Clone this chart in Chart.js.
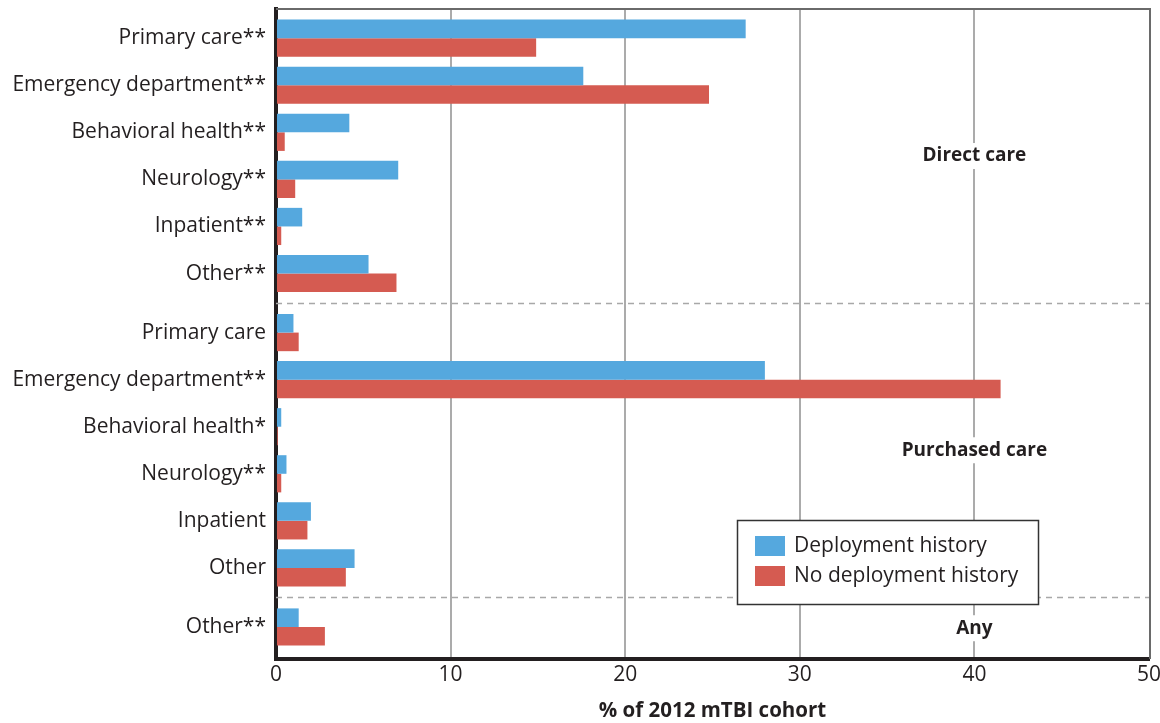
<!DOCTYPE html>
<html>
<head>
<meta charset="utf-8">
<script src="https://cdn.jsdelivr.net/npm/chart.js@4/dist/chart.umd.min.js"></script>
<style>
  html, body { margin: 0; padding: 0; background: #ffffff; }
  #wrap { width: 1160px; height: 723px; position: relative; }
</style>
</head>
<body>
<div id="wrap"><canvas id="c" width="1160" height="723"></canvas></div>
<script>
// ---- data ----
const categories = [
  "Primary care**", "Emergency department**", "Behavioral health**", "Neurology**", "Inpatient**", "Other**",
  "Primary care", "Emergency department**", "Behavioral health*", "Neurology**", "Inpatient", "Other",
  "Other**"
];
const groups = [
  "Direct care", "Direct care", "Direct care", "Direct care", "Direct care", "Direct care",
  "Purchased care", "Purchased care", "Purchased care", "Purchased care", "Purchased care", "Purchased care",
  "Any"
];
const groupNames = ["Direct care", "Purchased care", "Any"];
const deployment   = [26.9, 17.6, 4.2, 7.0, 1.5, 5.3,  1.0, 28.0, 0.3, 0.6, 2.0, 4.5,  1.3];
const noDeployment = [14.9, 24.8, 0.5, 1.1, 0.3, 6.9,  1.3, 41.5, 0.1, 0.3, 1.8, 4.0,  2.8];
const seriesNames = ["Deployment history", "No deployment history"];
const xTicks = [0, 10, 20, 30, 40, 50];
const xTitle = "% of 2012 mTBI cohort";

// ---- layout helpers (positions computed, not data) ----
const GROUP_GAP = 0.255;
const positions = categories.map((c, i) => i + groupNames.indexOf(groups[i]) * GROUP_GAP);
const Y_MIN = positions[0] - 0.62;
const Y_MAX = positions[positions.length - 1] + 0.68;

const FONT = "'Open Sans', 'Noto Sans', sans-serif";
const TEXT = "#231f20";
const BLUE = "#55a8de";
const RED = "#d55b51";

function labelFor(v) {
  for (let i = 0; i < positions.length; i++) {
    if (Math.abs(positions[i] - v) < 1e-6) return categories[i];
  }
  return "";
}

function groupBounds() {
  const out = [];
  groupNames.forEach((g) => {
    const idx = groups.map((x, i) => x === g ? i : -1).filter(i => i >= 0);
    const first = positions[idx[0]], last = positions[idx[idx.length - 1]];
    const start = idx[0] === 0 ? Y_MIN : (positions[idx[0] - 1] + first) / 2;
    const end = idx[idx.length - 1] === positions.length - 1 ? Y_MAX : (last + positions[idx[idx.length - 1] + 1]) / 2;
    out.push({ name: g, start, end });
  });
  return out;
}

const decor = {
  id: "decor",
  beforeDatasetsDraw(chart) {
    const { ctx, chartArea: a, scales: { y } } = chart;
    const b = groupBounds();
    ctx.save();
    ctx.strokeStyle = "#a8a8a8";
    ctx.lineWidth = 1.5;
    ctx.setLineDash([6, 5]);
    for (let i = 0; i < b.length - 1; i++) {
      const py = Math.round(y.getPixelForValue(b[i].end)) + 0.5;
      ctx.beginPath();
      ctx.moveTo(a.left, py);
      ctx.lineTo(a.right, py);
      ctx.stroke();
    }
    ctx.restore();
  },
  afterDraw(chart) {
    const { ctx, chartArea: a, scales: { x, y } } = chart;
    ctx.save();
    // top and right frame
    ctx.strokeStyle = "#6a6a6a";
    ctx.lineWidth = 2;
    ctx.beginPath();
    ctx.moveTo(a.left, a.top);
    ctx.lineTo(a.right + 1, a.top);
    ctx.lineTo(a.right + 1, a.bottom);
    ctx.stroke();

    // group labels
    ctx.font = "bold 19px " + FONT;
    ctx.textAlign = "center";
    ctx.textBaseline = "middle";
    const gx = x.getPixelForValue(40);
    groupBounds().forEach(g => {
      const gy = (y.getPixelForValue(g.start) + y.getPixelForValue(g.end)) / 2;
      const w = ctx.measureText(g.name).width;
      ctx.fillStyle = "#ffffff";
      ctx.fillRect(gx - w / 2 - 4, gy - 13, w + 8, 26);
      ctx.fillStyle = TEXT;
      ctx.fillText(g.name, gx, gy);
    });

    // legend box
    const lx = 737, ly = 520, lw = 301, lh = 84;
    ctx.fillStyle = "#ffffff";
    ctx.fillRect(lx, ly, lw, lh);
    ctx.strokeStyle = "#333333";
    ctx.lineWidth = 1.5;
    ctx.strokeRect(lx + 0.5, ly + 0.5, lw, lh);
    ctx.font = "21px " + FONT;
    ctx.textAlign = "left";
    ctx.textBaseline = "middle";
    chart.data.datasets.forEach((ds, i) => {
      const ry = ly + 16 + i * 30;
      ctx.fillStyle = ds.backgroundColor;
      ctx.fillRect(lx + 18, ry, 30, 20);
      ctx.fillStyle = TEXT;
      ctx.fillText(ds.label, lx + 57, ry + 10);
    });
    ctx.restore();
  }
};

new Chart(document.getElementById("c"), {
  type: "bar",
  data: {
    datasets: [
      { label: seriesNames[0], data: deployment.map((v, i) => ({ x: v, y: positions[i] })), backgroundColor: BLUE },
      { label: seriesNames[1], data: noDeployment.map((v, i) => ({ x: v, y: positions[i] })), backgroundColor: RED }
    ]
  },
  options: {
    indexAxis: "y",
    responsive: false,
    animation: false,
    categoryPercentage: 0.79,
    barPercentage: 1.0,
    layout: { padding: { top: 9, right: 11, left: 0, bottom: 0 } },
    plugins: { legend: { display: false }, tooltip: { enabled: false } },
    scales: {
      x: {
        type: "linear",
        min: xTicks[0],
        max: xTicks[xTicks.length - 1],
        afterBuildTicks(s) { s.ticks = xTicks.map(v => ({ value: v })); },
        afterFit(s) { s.height = 64; s.paddingLeft = 0; s.paddingRight = 0; },
        grid: {
          color: (c) => (c.tick && (c.tick.value === xTicks[0] || c.tick.value === xTicks[xTicks.length - 1])) ? "rgba(0,0,0,0)" : "#ababab",
          lineWidth: 2,
          drawTicks: false
        },
        border: { display: true, color: "#231f20", width: 4 },
        ticks: { color: TEXT, font: { family: FONT, size: 21 }, padding: 3 },
        title: {
          display: true,
          text: xTitle,
          color: TEXT,
          font: { family: FONT, size: 20.5, weight: "bold" },
          padding: { top: 2, bottom: 0 }
        }
      },
      y: {
        type: "linear",
        reverse: true,
        offset: false,
        min: Y_MIN,
        max: Y_MAX,
        afterBuildTicks(s) { s.ticks = positions.map(v => ({ value: v })); },
        afterFit(s) { s.width = 276; s.paddingTop = 0; s.paddingBottom = 0; },
        grid: { display: false, drawTicks: false, offset: false },
        border: { display: true, color: "#231f20", width: 4 },
        ticks: {
          autoSkip: false,
          color: TEXT,
          font: { family: FONT, size: 21 },
          padding: 10,
          callback: (v) => labelFor(v)
        }
      }
    }
  },
  plugins: [decor]
});
</script>
</body>
</html>
